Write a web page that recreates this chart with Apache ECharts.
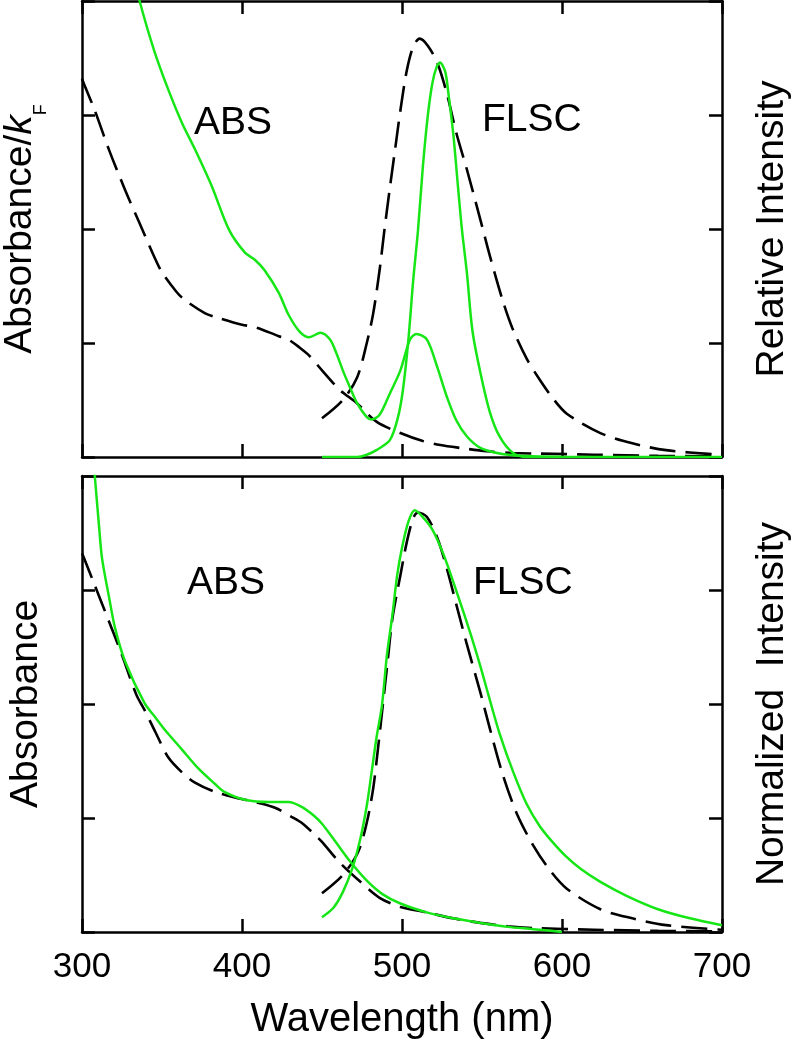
<!DOCTYPE html>
<html>
<head>
<meta charset="utf-8">
<script src="https://cdn.jsdelivr.net/npm/echarts@6/dist/echarts.min.js"></script>
<style>
html,body{margin:0;padding:0;background:#fff;}
#c{width:799px;height:1050px;}
</style>
</head>
<body>
<div id="c"></div>
<script>
// ---- data: [wavelength nm, value] ----
var xTicks = [300, 400, 500, 600, 700];

// top panel (Absorbance/kF , Relative Intensity)
var topAbsBlack = [[300,3.32],[301,3.28],[308,3.04],[317,2.69],[327,2.34],[336,2.05],[346,1.73],[350,1.62],[359,1.45],[364,1.38],[377,1.26],[383,1.23],[400,1.16],[408,1.14],[423,1.06],[429,1.03],[436,0.96],[442,0.89],[450,0.76],[461,0.59],[472,0.47],[484,0.31],[499,0.21],[513,0.14],[524,0.105],[536,0.08],[553,0.05],[569,0.035],[586,0.03],[620,0.02],[660,0.01],[700,0.005]];
var topAbsGreen = [[330,4.35],[336,4.0],[345,3.57],[354,3.22],[362.5,2.93],[370.6,2.70],[381,2.38],[392,1.99],[402,1.79],[408,1.73],[414,1.64],[423,1.44],[429,1.25],[436,1.10],[442,1.05],[449,1.09],[455,1.03],[459,0.91],[463,0.76],[467.5,0.61],[472,0.47],[478,0.35],[481,0.33],[486,0.37],[492.5,0.56],[499,0.76],[505,1.03],[509,1.08],[515.6,1.03],[522,0.79],[528,0.53],[534,0.32],[540.6,0.18],[549,0.08],[561,0.03],[574,0.01],[600,0]];
var topEmBlack = [[450,0.34],[463,0.50],[472,0.70],[478,1.0],[482,1.26],[486,1.64],[489,1.99],[492.5,2.37],[495.6,2.69],[499,3.04],[503,3.39],[507,3.60],[511,3.67],[516,3.61],[522,3.46],[528,3.19],[534,2.84],[540.6,2.52],[549,2.08],[555,1.76],[563,1.37],[569,1.13],[578,0.86],[586,0.68],[594,0.52],[603,0.38],[624,0.21],[644,0.12],[665,0.06],[699,0.02]];
var topEmGreen = [[450,0],[472,0],[478,0.02],[484,0.06],[492.5,0.15],[497.5,0.35],[500.6,0.59],[504,1.03],[507,1.55],[510,1.99],[513,2.54],[516,2.98],[519,3.28],[521.6,3.42],[523.7,3.46],[527,3.38],[529,3.19],[532,2.84],[535,2.37],[537.5,1.99],[540.6,1.61],[544,1.11],[549,0.74],[555,0.39],[561,0.18],[569,0.04],[578,0.0],[700,0]];

// bottom panel (Absorbance , Normalized Intensity)
var botAbsBlack = [[300,3.32],[301,3.29],[308,3.04],[317,2.72],[325,2.43],[334,2.08],[339,1.95],[346,1.75],[354,1.53],[362.5,1.40],[370.6,1.31],[383,1.23],[395.6,1.18],[408,1.14],[420.6,1.09],[431,1.01],[438,0.95],[445,0.86],[450,0.79],[461,0.61],[474,0.44],[486,0.30],[499,0.22],[516,0.17],[532,0.12],[549,0.08],[566,0.05],[582,0.035],[620,0.02],[660,0.01],[700,0.005]];
var botAbsGreen = [[306,4.35],[308,4.0],[310.6,3.57],[312.5,3.28],[317,2.93],[320.6,2.67],[327,2.37],[339,2.01],[346,1.88],[352,1.77],[362.5,1.60],[373,1.43],[383,1.30],[389,1.23],[402,1.16],[417,1.14],[429,1.14],[437,1.10],[445,1.02],[450,0.95],[457,0.82],[467.5,0.62],[478,0.45],[488,0.33],[499,0.25],[516,0.17],[532,0.12],[549,0.08],[566,0.045],[582,0.025],[600,0.0]];
var botEmBlack = [[450,0.34],[463,0.50],[472.5,0.70],[478,0.96],[482,1.26],[485,1.61],[488,1.99],[491,2.37],[494,2.75],[499,3.13],[503,3.42],[507,3.63],[510,3.68],[515.6,3.64],[522,3.46],[528,3.19],[534,2.87],[540.6,2.52],[549,2.10],[555,1.78],[563,1.38],[572,1.03],[582,0.76],[592,0.55],[603,0.38],[624,0.20],[644,0.12],[665,0.06],[700,0.02]];
var botEmGreen = [[450,0.13],[457,0.21],[463,0.35],[469,0.56],[474,0.82],[478,1.11],[481,1.40],[484,1.70],[487.5,1.99],[490.6,2.43],[494,2.78],[497,3.13],[500,3.37],[504,3.60],[508,3.70],[513,3.64],[519,3.53],[526,3.31],[534,2.99],[542.5,2.63],[549,2.33],[554,2.08],[561,1.74],[569.6,1.40],[578,1.12],[586,0.93],[594,0.79],[602,0.67],[612,0.55],[624,0.44],[640,0.32],[660,0.20],[680,0.12],[700,0.06]];

var FONT = 'Liberation Sans';
var GREEN = '#16e616';
var chart = echarts.init(document.getElementById('c'), null, {renderer:'canvas'});

function xAx(grid, pos, labels) {
  return {
    type:'value', gridIndex:grid, position:pos, min:xTicks[0], max:xTicks[xTicks.length-1], interval:100,
    axisLine:{show:true, onZero:false, lineStyle:{color:'#000', width:2.5}},
    axisTick:{show:true, inside:true, length:13, lineStyle:{color:'#000', width:2.5}},
    axisLabel:{show:labels, color:'#000', fontFamily:FONT, fontSize:35, margin:18},
    splitLine:{show:false}
  };
}
function yAx(grid, pos, name, gap, rich) {
  var o = {
    type:'value', gridIndex:grid, position:pos, min:0, max:4, interval:1,
    axisLine:{show:true, onZero:false, lineStyle:{color:'#000', width:2.5}},
    axisTick:{show:true, inside:true, length:13, lineStyle:{color:'#000', width:2.5}},
    axisLabel:{show:false}, splitLine:{show:false},
    name:name, nameLocation:'middle', nameRotate:90, nameGap:gap,
    nameTextStyle:{color:'#000', fontFamily:FONT, fontSize:39}
  };
  if (rich) o.nameTextStyle.rich = rich;
  return o;
}
function ser(data, xi, yi, green) {
  return {
    type:'line', xAxisIndex:xi, yAxisIndex:yi, data:data, showSymbol:false,
    smooth:0.3,
    animation:false, clip:true,
    lineStyle: green ? {color:GREEN, width:2.5} : {color:'#000', width:2.6, type:[26,10]}
  };
}

var option = {
  backgroundColor:'#fff',
  animation:false,
  grid:[
    {left:82, top:1, width:640, height:456, outerBoundsMode:'none', containLabel:false},
    {left:82, top:476, width:640, height:456, outerBoundsMode:'none', containLabel:false}
  ],
  xAxis:[
    xAx(0,'bottom',false), xAx(0,'top',false),
    Object.assign(xAx(1,'bottom',true), {name:'Wavelength (nm)', nameLocation:'middle', nameGap:68,
      nameTextStyle:{color:'#000', fontFamily:FONT, fontSize:40}}),
    xAx(1,'top',false)
  ],
  yAxis:[
    yAx(0,'left','{a|Absorbance/}{k|k}{f|F}', 32, {
      a:{fontFamily:FONT, fontSize:39, color:'#000', lineHeight:60},
      k:{fontFamily:FONT, fontSize:39, fontStyle:'italic', color:'#000', lineHeight:60},
      f:{fontFamily:FONT, fontSize:18, color:'#000', lineHeight:18, verticalAlign:'bottom'}
    }),
    yAx(0,'right','Relative Intensity', 31),
    yAx(1,'left','Absorbance', 36),
    yAx(1,'right','Normalized  Intensity', 31)
  ],
  graphic:[
    {type:'text', left:194, top:104, style:{text:'ABS', font:'39px "Liberation Sans"', fill:'#000'}},
    {type:'text', left:482, top:101, style:{text:'FLSC', font:'39px "Liberation Sans"', fill:'#000'}},
    {type:'text', left:187, top:564, style:{text:'ABS', font:'39px "Liberation Sans"', fill:'#000'}},
    {type:'text', left:473, top:564, style:{text:'FLSC', font:'39px "Liberation Sans"', fill:'#000'}}
  ],
  series:[
    ser(topAbsBlack,0,0,false),
    ser(topEmBlack,0,1,false),
    ser(topAbsGreen,0,0,true),
    ser(topEmGreen,0,1,true),
    ser(botAbsBlack,2,2,false),
    ser(botEmBlack,2,3,false),
    ser(botAbsGreen,2,2,true),
    ser(botEmGreen,2,3,true)
  ]
};
chart.setOption(option);
</script>
</body>
</html>
